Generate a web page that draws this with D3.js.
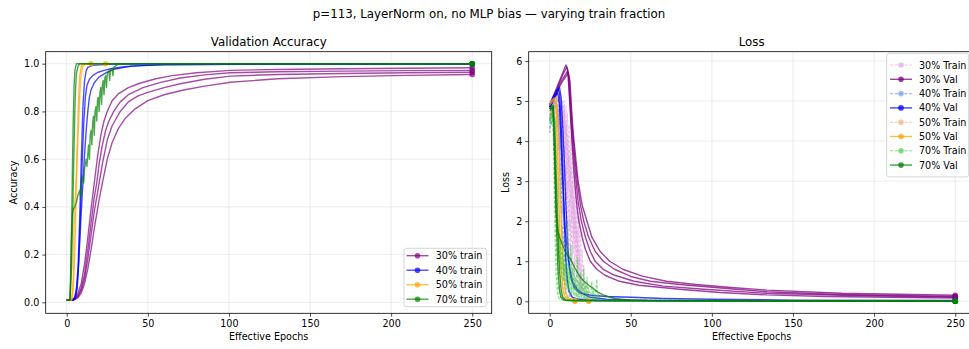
<!DOCTYPE html>
<html><head><meta charset="utf-8">
<script src="https://cdn.jsdelivr.net/npm/d3@7"></script>
<style>body{margin:0;background:#fff}svg{display:block}text{font-family:"DejaVu Sans",sans-serif;fill:#000}</style>
</head><body><div id="chart"></div>
<script>
// ---------------- DATA ----------------
const fractions = ["30%", "40%", "50%", "70%"];
const valColors = ["purple", "blue", "orange", "green"];
const trainColors = ["plum", "cornflowerblue", "sandybrown", "limegreen"];
const xTicks = [0, 50, 100, 150, 200, 250];
const accTicks = [0, 0.2, 0.4, 0.6, 0.8, 1.0];
const lossTicks = [0, 1, 2, 3, 4, 5, 6];
const suptitle = "p=113, LayerNorm on, no MLP bias \u2014 varying train fraction";

// validation accuracy runs, [epoch, accuracy]
const acc30 = [
 [[0,0.01],[3,0.01],[5,0.02],[7,0.04],[9,0.08],[11,0.16],[13,0.27],[15,0.39],[17,0.5],[19,0.61],[21,0.7],[23,0.76],[25,0.8],[28,0.845],[32,0.875],[38,0.9],[45,0.918],[55,0.937],[65,0.95],[80,0.962],[101,0.972],[130,0.976],[170,0.979],[210,0.981],[250,0.983]],
 [[0,0.01],[3,0.01],[5,0.015],[7,0.03],[9,0.06],[11,0.12],[13,0.22],[15,0.33],[17,0.44],[18.5,0.5],[20,0.58],[22,0.66],[24,0.72],[26,0.76],[29,0.8],[33,0.84],[38,0.87],[47,0.9],[58,0.922],[70,0.94],[85,0.953],[101,0.962],[130,0.966],[170,0.969],[210,0.971],[250,0.972]],
 [[0,0.01],[3,0.01],[5,0.012],[7,0.025],[9,0.05],[11,0.1],[13,0.18],[15,0.28],[17,0.38],[20,0.5],[22,0.58],[25,0.68],[28,0.74],[33,0.8],[38,0.84],[44,0.865],[50,0.88],[60,0.9],[70,0.916],[85,0.935],[101,0.948],[130,0.955],[170,0.959],[210,0.962],[250,0.964]],
 [[0,0.01],[3,0.01],[5,0.012],[7,0.02],[9,0.04],[11,0.08],[13,0.14],[15,0.22],[17,0.31],[20,0.43],[22,0.5],[25,0.6],[28,0.67],[32,0.73],[36,0.77],[42,0.81],[50,0.845],[60,0.87],[72,0.89],[85,0.906],[101,0.922],[130,0.937],[170,0.946],[210,0.951],[250,0.955]]
];
const acc40 = [
 [[0,0.01],[4,0.01],[5,0.02],[6,0.06],[7,0.15],[8,0.35],[9,0.6],[10,0.82],[11,0.93],[12,0.97],[13,0.985],[16,0.993],[25,0.997],[40,0.999],[250,1.0]],
 [[0,0.01],[4,0.01],[5.5,0.02],[6.5,0.06],[7.5,0.18],[8.5,0.38],[9.5,0.58],[10.5,0.75],[11.5,0.86],[12.5,0.91],[14,0.935],[16,0.95],[19,0.963],[23,0.972],[28,0.98],[35,0.987],[45,0.992],[60,0.995],[100,0.998],[250,0.999]],
 [[0,0.01],[4,0.01],[5,0.02],[6,0.05],[7,0.12],[8,0.25],[9,0.38],[10,0.5],[11,0.62],[12,0.72],[13,0.8],[14,0.86],[15,0.89],[17,0.92],[20,0.945],[25,0.965],[30,0.978],[40,0.99],[60,0.996],[250,1.0]]
];
const acc50 = [
 [[0,0.01],[3,0.01],[4,0.05],[5,0.2],[5.5,0.35],[6,0.5],[6.5,0.65],[7,0.78],[7.5,0.88],[8,0.95],[9,0.99],[10,1.0],[15,1.0]],
 [[0,0.01],[3,0.01],[4,0.1],[4.5,0.3],[5,0.42],[5.5,0.47],[6,0.55],[6.5,0.62],[7,0.7],[7.5,0.78],[8,0.86],[8.5,0.92],[9,0.96],[10,0.99],[12,1.0],[24,1.0]]
];
const acc70 = [
 [[0,0.01],[2,0.01],[2.5,0.1],[3,0.3],[3.5,0.55],[4,0.75],[4.5,0.9],[5,0.97],[6,1.0],[250,1.0]],
 [[0,0.01],[2,0.01],[3,0.15],[3.5,0.3],[4,0.48],[4.5,0.64],[5,0.8],[5.5,0.9],[6,0.96],[7,0.99],[8,1.0],[250,1.0]],
 [[0,0.01],[2,0.01],[2.5,0.15],[3,0.3],[3.5,0.37],[4,0.39],[5,0.4],[6,0.42],[7,0.45],[8,0.47],[8.5,0.44],[9,0.5],[10,0.53],[10.5,0.5],[11,0.56],[12,0.6],[12.5,0.57],[13,0.62],[13.5,0.66],[14,0.6],[14.5,0.7],[15,0.72],[15.5,0.66],[16,0.75],[16.5,0.78],[17,0.7],[17.5,0.8],[18,0.82],[18.5,0.76],[19,0.85],[19.5,0.86],[20,0.8],[20.5,0.88],[21,0.9],[21.5,0.83],[22,0.91],[22.5,0.93],[23,0.87],[23.5,0.94],[24,0.95],[24.5,0.9],[25,0.96],[26,0.97],[26.5,0.93],[27,0.975],[28,0.98],[28.5,0.95],[29,0.985],[30,0.99],[31,0.995],[32,1.0],[250,1.0]]
];

// loss runs, [epoch, loss]
const train30 = [
 [[0,4.6],[2,4.85],[4,5.0],[6,5.0],[6.5,4.2],[7,5.0],[7.5,3.8],[8,4.9],[8.5,3.4],[9,4.7],[9.5,3.0],[10,4.4],[10.5,2.6],[11,4.0],[11.5,2.2],[12,3.6],[12.5,1.8],[13,3.2],[13.5,1.5],[14,2.8],[14.5,1.2],[15,2.4],[15.5,0.9],[16,2.0],[16.5,0.6],[17,1.5],[17.5,0.4],[18,1.1],[18.5,0.25],[19,0.7],[19.5,0.15],[20,0.4],[21,0.1],[22,0.06],[25,0.03],[40,0.01],[250,0.003]],
 [[0,4.7],[2,4.9],[4,5.05],[6,5.1],[8,5.0],[8.5,4.5],[9,5.0],[9.5,4.2],[10,4.9],[10.5,3.8],[11,4.7],[11.5,3.4],[12,4.4],[12.5,3.0],[13,4.1],[13.5,2.6],[14,3.7],[14.5,2.2],[15,3.3],[15.5,1.8],[16,2.9],[16.5,1.5],[17,2.5],[17.5,1.2],[18,2.1],[18.5,0.9],[19,1.7],[19.5,0.6],[20,1.3],[20.5,0.4],[21,0.9],[21.5,0.25],[22,0.5],[23,0.12],[25,0.05],[35,0.02],[250,0.003]],
 [[0,4.6],[2,4.8],[4,4.95],[5,4.9],[5.5,4.0],[6,4.8],[6.5,3.5],[7,4.5],[7.5,3.0],[8,4.2],[8.5,2.6],[9,3.8],[9.5,2.2],[10,3.4],[10.5,1.8],[11,3.0],[11.5,1.4],[12,2.5],[12.5,1.0],[13,2.0],[13.5,0.7],[14,1.5],[14.5,0.45],[15,1.0],[15.5,0.3],[16,0.6],[17,0.15],[18,0.08],[20,0.03],[30,0.01],[250,0.003]],
 [[0,4.65],[2,4.9],[4,5.0],[6,5.05],[7,5.1],[7.5,4.6],[8,5.0],[8.5,4.0],[9,4.8],[9.5,3.6],[10,4.5],[10.5,3.2],[11,4.2],[11.5,2.8],[12,3.8],[12.5,2.4],[13,3.4],[13.5,2.0],[14,3.0],[14.5,1.6],[15,2.6],[15.5,1.3],[16,2.2],[16.5,1.0],[17,1.8],[17.5,0.7],[18,1.3],[18.5,0.45],[19,0.9],[19.5,0.3],[20,0.55],[21,0.2],[22,0.1],[24,0.05],[35,0.015],[250,0.003]]
];
const val30 = [
 [[0,4.9],[2,5.1],[4,5.3],[6,5.5],[8,5.7],[10,5.9],[11,5.8],[12,5.2],[13,4.5],[14,3.8],[15,3.2],[16,2.7],[17,2.3],[18,2.0],[20,1.6],[22,1.3],[25,1.0],[29,0.8],[34,0.65],[43,0.5],[55,0.4],[80,0.3],[105,0.22],[134,0.16],[170,0.12],[210,0.1],[250,0.08]],
 [[0,4.9],[2,5.05],[4,5.25],[6,5.45],[8,5.65],[10.5,5.85],[11.5,5.7],[12.5,5.0],[13.5,4.3],[14.5,3.8],[16,3.1],[17.5,2.5],[19.5,2.0],[22,1.6],[25,1.25],[28,1.0],[33,0.8],[40,0.65],[52,0.5],[70,0.38],[95,0.3],[134,0.2],[180,0.15],[250,0.1]],
 [[0,4.85],[2,5.0],[4,5.2],[6,5.4],[8,5.55],[11,5.75],[12,5.55],[13,4.9],[14,4.3],[15,3.8],[17,3.0],[19,2.4],[21,2.0],[24,1.6],[28,1.25],[33,1.0],[40,0.8],[50,0.62],[62,0.5],[80,0.42],[100,0.35],[134,0.24],[180,0.17],[250,0.12]],
 [[0,4.85],[2,5.0],[4,5.15],[6,5.35],[8,5.5],[11.5,5.7],[12.5,5.5],[13.5,4.8],[14.5,4.2],[15.5,3.8],[17.5,3.0],[20,2.4],[23,2.0],[26,1.6],[31,1.25],[37,1.0],[45,0.8],[57,0.63],[72,0.5],[90,0.42],[110,0.35],[134,0.28],[180,0.2],[250,0.15]]
];
const train40 = [
 [[0,4.3],[0.5,4.7],[1,4.4],[1.5,4.9],[2,4.5],[2.5,5.0],[3,4.7],[4,4.9],[4.5,4.3],[5,4.8],[5.5,3.8],[6,4.2],[6.5,2.6],[7,3.1],[7.5,1.5],[8,1.9],[8.5,0.7],[9,0.9],[9.5,0.3],[10,0.2],[11,0.08],[13,0.03],[20,0.01],[250,0.002]],
 [[0,4.5],[1,4.8],[2,4.6],[3,5.0],[4,5.1],[5,5.0],[5.5,4.4],[6,4.9],[6.5,3.8],[7,4.3],[7.5,2.9],[8,3.4],[8.5,1.9],[9,2.3],[9.5,1.0],[10,1.3],[10.5,0.5],[11,0.6],[12,0.15],[13,0.06],[20,0.02],[250,0.002]],
 [[0,4.2],[1,4.6],[2,4.9],[3,4.8],[4,5.0],[5,4.7],[6,4.0],[6.5,3.2],[7,3.6],[7.5,2.2],[8,2.6],[8.5,1.4],[9,1.6],[9.5,0.7],[10,0.9],[11,0.3],[12,0.18],[14,0.08],[18,0.03],[250,0.002]]
];
const val40 = [
 [[0,4.9],[2,5.1],[4,5.25],[5,5.3],[6,5.2],[7,4.5],[8,3.3],[9,2.0],[10,1.0],[11,0.5],[12,0.25],[14,0.1],[18,0.05],[30,0.02],[250,0.005]],
 [[0,4.8],[2,5.0],[4,5.2],[6,5.35],[7,5.1],[8,4.4],[9,3.5],[10,2.4],[11,1.5],[12,0.9],[13,0.6],[15,0.35],[18,0.22],[25,0.15],[35,0.12],[50,0.1],[70,0.07],[100,0.05],[150,0.03],[250,0.02]],
 [[0,4.85],[3,5.1],[5,5.2],[6,4.9],[7,4.0],[8,3.0],[9,2.2],[10,1.6],[11,1.2],[12,0.9],[14,0.5],[17,0.3],[20,0.2],[25,0.1],[35,0.05],[60,0.02],[250,0.005]]
];
const train50 = [
 [[0,4.6],[1,4.8],[2,4.5],[3,4.9],[4,3.8],[5,2.2],[6,0.9],[7,0.35],[8,0.12],[10,0.03],[15.5,0.005]],
 [[0,4.7],[1,4.5],[2,4.9],[3,4.7],[4,4.4],[5,3.2],[6,1.8],[7,0.8],[8,0.3],[9,0.1],[12,0.02],[24,0.003]]
];
const val50 = [
 [[0,4.9],[2,5.0],[3,5.05],[4,4.8],[5,3.5],[6,2.0],[7,0.9],[8,0.4],[9,0.15],[11,0.05],[15.5,0.01]],
 [[0,4.95],[2,5.05],[4,5.1],[5,4.6],[6,3.4],[7,2.1],[8,1.1],[9,0.5],[10,0.2],[12,0.06],[16,0.02],[24,0.005]]
];
const train70 = [
 [[0,4.5],[1,4.7],[2,4.6],[2.5,3.8],[3,2.5],[3.5,1.4],[4,0.6],[5,0.15],[6,0.05],[10,0.01],[250,0.001]],
 [[0,4.6],[1,4.4],[2,4.8],[3,3.8],[3.5,2.8],[4,1.9],[4.5,1.1],[5,0.5],[6,0.15],[8,0.04],[250,0.001]],
 [[0,4.5],[1,4.7],[2,4.6],[3,3.0],[4,1.6],[5,1.9],[5.5,1.0],[6,1.7],[6.5,0.8],[7,1.5],[7.5,0.6],[8,1.3],[8.5,0.5],[9,1.2],[9.5,0.4],[10,1.0],[10.5,0.3],[11,2.0],[11.5,0.3],[12,0.9],[12.5,0.2],[13,1.4],[13.5,0.2],[14,0.8],[14.5,0.15],[15,0.9],[15.5,0.12],[16,0.6],[16.5,0.1],[17,1.1],[17.5,0.1],[18,0.5],[18.5,0.08],[19,0.7],[19.5,0.07],[20,0.45],[20.5,0.06],[21,0.8],[21.5,0.05],[22,0.4],[22.5,0.05],[23,0.6],[23.5,0.04],[24,0.35],[25,0.04],[26,0.5],[26.5,0.03],[27,0.3],[28,0.03],[29,0.55],[29.5,0.02],[30,0.2],[31,0.02],[35,0.01],[250,0.001]]
];
const val70 = [
 [[0,4.8],[1,4.85],[2,4.9],[3,4.0],[4,2.2],[5,0.9],[6,0.3],[7,0.1],[9,0.03],[15,0.01],[250,0.002]],
 [[0,4.75],[2,4.85],[3,4.5],[4,3.2],[5,1.8],[6,0.8],[7,0.3],[8,0.1],[10,0.03],[250,0.002]],
 [[0,4.8],[2,4.85],[3,3.6],[4,2.2],[5,1.75],[6,1.6],[7,1.5],[8,1.4],[9,1.3],[10,1.22],[11,1.15],[12,1.1],[13,1.05],[14,0.95],[16,0.8],[18,0.65],[20,0.55],[22,0.47],[24,0.4],[26,0.35],[28,0.28],[30,0.22],[33,0.16],[36,0.12],[40,0.07],[50,0.03],[80,0.01],[250,0.002]]
];

const accRuns = [acc30, acc40, acc50, acc70];
const trainRuns = [train30, train40, train50, train70];
const valRuns = [val30, val40, val50, val70];

// ---------------- DRAW ----------------
const W = 969, H = 349;
const FONT = 9.6;
const TFONT = 11.8;
const svg = d3.select("#chart").append("svg").attr("width", W).attr("height", H);

const L = {x0: 45.7, x1: 491.7, y0: 51.7, y1: 313.3};
const R = {x0: 528.7, x1: 974.7, y0: 51.7, y1: 313.3};
const xDom = [-12.95, 262.0];
const xL = d3.scaleLinear().domain(xDom).range([L.x0, L.x1]);
const xR = d3.scaleLinear().domain(xDom).range([R.x0, R.x1]);
const yL = d3.scaleLinear().domain([-0.046, 1.0503]).range([L.y1, L.y0]);
const yR = d3.scaleLinear().domain([-0.2996, 6.2324]).range([R.y1, R.y0]);

svg.append("text").attr("x", 489).attr("y", 18).attr("text-anchor", "middle")
  .style("font-size", TFONT + "px").text(suptitle);

const defs = svg.append("defs");
function clip(id, B) {
  defs.append("clipPath").attr("id", id).append("rect")
    .attr("x", B.x0).attr("y", B.y0).attr("width", B.x1 - B.x0).attr("height", B.y1 - B.y0);
}
clip("clipL", L); clip("clipR", R);

function axesFrame(B, x, y, yTicks, yFmt, title, ylabel, ylabelX) {
  const g = svg.append("g");
  g.selectAll(".gx").data(xTicks).enter().append("line")
    .attr("x1", d => x(d)).attr("x2", d => x(d)).attr("y1", B.y0).attr("y2", B.y1)
    .attr("stroke", "#b0b0b0").attr("stroke-opacity", 0.3).attr("stroke-width", 0.8);
  g.selectAll(".gy").data(yTicks).enter().append("line")
    .attr("x1", B.x0).attr("x2", B.x1).attr("y1", d => y(d)).attr("y2", d => y(d))
    .attr("stroke", "#b0b0b0").attr("stroke-opacity", 0.3).attr("stroke-width", 0.8);
  const ax = g.append("g").attr("transform", `translate(0,${B.y1})`)
    .call(d3.axisBottom(x).tickValues(xTicks).tickSize(3.4).tickPadding(3).tickSizeOuter(0).tickFormat(d3.format("d")));
  const ay = g.append("g").attr("transform", `translate(${B.x0},0)`)
    .call(d3.axisLeft(y).tickValues(yTicks).tickSize(3.4).tickPadding(3).tickSizeOuter(0).tickFormat(yFmt));
  [ax, ay].forEach(a => {
    a.select(".domain").remove();
    a.selectAll("text").style("font-size", FONT + "px").style("font-family", "DejaVu Sans").attr("fill", "#000");
    a.selectAll("line").attr("stroke", "#000").attr("stroke-width", 0.7);
  });
  g.append("text").attr("x", B.x0 + 223).attr("y", 46).attr("text-anchor", "middle")
    .style("font-size", TFONT + "px").text(title);
  g.append("text").attr("x", B.x0 + 223).attr("y", 340).attr("text-anchor", "middle")
    .style("font-size", FONT + "px").text("Effective Epochs");
  g.append("text").attr("transform", `translate(${ylabelX},${(B.y0 + B.y1) / 2}) rotate(-90)`)
    .attr("text-anchor", "middle").style("font-size", FONT + "px").text(ylabel);
  return g;
}
function spines(B) {
  svg.append("rect").attr("x", B.x0).attr("y", B.y0).attr("width", B.x1 - B.x0).attr("height", B.y1 - B.y0)
    .attr("fill", "none").attr("stroke", "#000").attr("stroke-width", 0.8);
}

axesFrame(L, xL, yL, accTicks, d3.format(".1f"), "Validation Accuracy", "Accuracy", 16.5);
axesFrame(R, xR, yR, lossTicks, d3.format("d"), "Loss", "Loss", 509);

function drawRuns(g, runs, x, y, color, alpha, width, dash) {
  const line = d3.line().x(d => x(d[0])).y(d => y(d[1]));
  runs.forEach(run => {
    g.append("path").attr("d", line(run)).attr("fill", "none")
      .attr("stroke", color).attr("stroke-opacity", alpha).attr("stroke-width", width)
      .attr("stroke-linejoin", "round").attr("stroke-dasharray", dash || null);
    const last = run[run.length - 1];
    g.append("circle").attr("cx", x(last[0])).attr("cy", y(last[1])).attr("r", 2.8)
      .attr("fill", color).attr("fill-opacity", alpha);
  });
}

const gL = svg.append("g").attr("clip-path", "url(#clipL)");
accRuns.forEach((runs, i) => drawRuns(gL, runs, xL, yL, valColors[i], 0.7, 1.4));

const gR = svg.append("g").attr("clip-path", "url(#clipR)");
fractions.forEach((f, i) => {
  drawRuns(gR, trainRuns[i], xR, yR, trainColors[i], 0.6, 1.2, "3.2,1.6");
  drawRuns(gR, valRuns[i], xR, yR, valColors[i], 0.75, 1.4);
});

spines(L); spines(R);

function legend(x, y, w, items, rowH, firstY, handleX, textX) {
  const g = svg.append("g");
  g.append("rect").attr("x", x).attr("y", y).attr("width", w).attr("height", items.length * rowH + 2 * (firstY - y) - rowH + 0.1)
    .attr("rx", 2.5).attr("fill", "#fff").attr("fill-opacity", 0.8).attr("stroke", "#cccccc").attr("stroke-width", 0.8);
  items.forEach((it, k) => {
    const cy = firstY + k * rowH;
    g.append("line").attr("x1", handleX).attr("x2", handleX + 22).attr("y1", cy).attr("y2", cy)
      .attr("stroke", it.color).attr("stroke-opacity", it.alpha).attr("stroke-width", it.dash ? 1.1 : 1.4)
      .attr("stroke-dasharray", it.dash || null);
    g.append("circle").attr("cx", handleX + 11).attr("cy", cy).attr("r", 2.8)
      .attr("fill", it.color).attr("fill-opacity", it.alpha);
    g.append("text").attr("x", textX).attr("y", cy + 3.5).style("font-size", FONT + "px").text(it.label);
  });
}
legend(404, 248.3, 82.7, fractions.map((f, i) => ({label: f + " train", color: valColors[i], alpha: 0.7})),
  14.5, 255.7, 406.5, 435.7);
const rItems = [];
fractions.forEach((f, i) => {
  rItems.push({label: f + " Train", color: trainColors[i], alpha: 0.6, dash: "3.2,1.6"});
  rItems.push({label: f + " Val", color: valColors[i], alpha: 0.75});
});
legend(886.7, 53.3, 82, rItems, 14.3, 65, 890, 919);
</script>
</body></html>
